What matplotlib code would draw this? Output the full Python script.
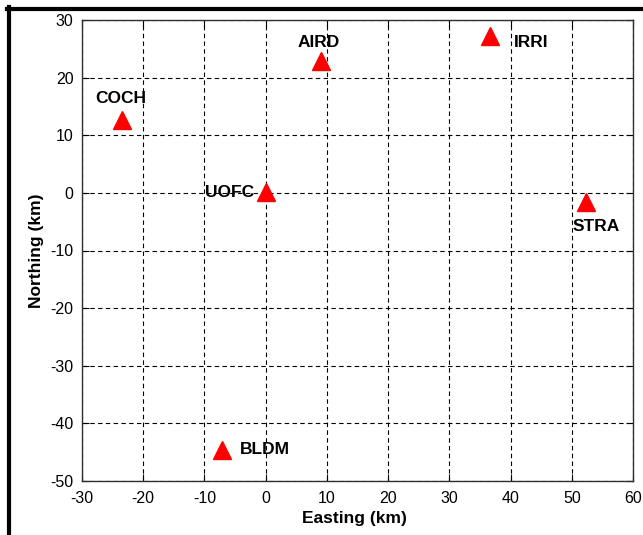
import matplotlib
matplotlib.use("Agg")
import matplotlib.pyplot as plt
from matplotlib.lines import Line2D

# station data (km)
stations = ["COCH", "AIRD", "IRRI", "UOFC", "STRA", "BLDM"]
easting = [-23.4, 9.0, 36.6, 0.0, 52.4, -7.1]
northing = [12.6, 22.8, 27.2, 0.2, -1.6, -44.6]

# label anchor positions (km)
label_x = [-23.7, 8.7, 40.6, -1.9, 54.0, -4.2]
label_y = [16.4, 26.1, 26.1, 0.0, -5.9, -44.6]
label_ha = ["center", "center", "left", "right", "center", "left"]

xticks = list(range(-30, 61, 10))
yticks = list(range(-50, 31, 10))

W, H = 643, 535
fig = plt.figure(figsize=(W / 100, H / 100), dpi=100)
fig.patch.set_facecolor("white")

ax = fig.add_axes([82 / W, 1 - 481 / H, (633 - 82) / W, (481 - 20) / H])

ax.plot(easting, northing, linestyle="none", marker="^", markersize=13,
        color="red", markeredgecolor="red", zorder=5)

for name, lx, ly, ha in zip(stations, label_x, label_y, label_ha):
    ax.text(lx, ly, name, ha=ha, va="center", fontsize=12.5, fontweight="bold",
            family=["Liberation Sans", "DejaVu Sans"], zorder=6)

ax.set_xlim(-30, 60)
ax.set_ylim(-50, 30)
ax.set_xticks(xticks)
ax.set_yticks(yticks)
ax.set_xticklabels([str(v) for v in xticks])
ax.set_yticklabels([str(v) for v in yticks])

tick_font = ["Liberation Sans Narrow", "Liberation Sans", "DejaVu Sans"]
for lab in ax.get_xticklabels() + ax.get_yticklabels():
    lab.set_family(tick_font)
    lab.set_fontsize(11.5)

ax.tick_params(direction="in", length=5, width=0.8, top=True, right=True,
               colors="black")
ax.tick_params(axis="x", pad=7)
ax.tick_params(axis="y", pad=6)

ax.grid(True, color="black", linewidth=0.8, linestyle=(0, (4, 3)))
ax.set_axisbelow(True)
for sp in ax.spines.values():
    sp.set_color("#303030")
    sp.set_linewidth(1.0)

ax.set_xlabel("Easting (km)", fontsize=12.5, fontweight="bold",
              family=["Liberation Sans", "DejaVu Sans"])
ax.set_ylabel("Northing (km)", fontsize=12.5, fontweight="bold",
              family=["Liberation Sans", "DejaVu Sans"])
ax.xaxis.set_label_coords(0.495, -(511 - 481) / (481 - 20))
ax.yaxis.set_label_coords(-(82 - 44) / (633 - 82), 0.5)

# black window frame on top and left edges
fig.add_artist(Line2D([7 / W, 1.0], [1 - 9 / H, 1 - 9 / H], color="black",
                      linewidth=3, transform=fig.transFigure))
fig.add_artist(Line2D([9 / W, 9 / W], [0.0, 1 - 7 / H], color="black",
                      linewidth=3, transform=fig.transFigure))

fig.savefig("out.png", dpi=100)
